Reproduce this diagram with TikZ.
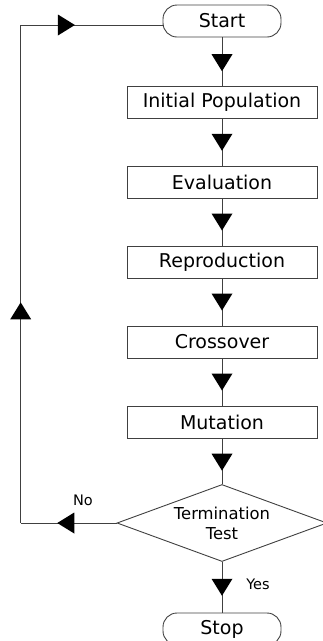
\documentclass[tikz,border=0pt]{standalone}
\usepackage{fontspec}
\setmainfont{DejaVu Sans}
\usetikzlibrary{shapes.geometric,decorations.markings}
\tikzset{
  edgecol/.style={draw=black!75, line width=0.9pt},
  procbox/.style={rectangle, edgecol, minimum width=190pt, minimum height=32pt, inner sep=0pt, font=\fontsize{19}{22}\selectfont},
  termbox/.style={rectangle, rounded corners=14pt, edgecol, minimum width=118pt, minimum height=32pt, inner sep=0pt, font=\fontsize{19}{22}\selectfont},
  decbox/.style={diamond, edgecol, aspect=2.73, minimum width=210pt, minimum height=77pt, inner sep=0pt, align=center, font=\fontsize{16.4}{20}\selectfont},
  lbl/.style={inner sep=0pt, font=\fontsize{14.5}{16}\selectfont},
  conn/.style={edgecol},
  midarrow/.style={postaction={decorate}, decoration={markings, mark=at position #1 with {\fill[black] (8.5pt,0)--(-8.5pt,10.5pt)--(-8.5pt,-10.5pt)--cycle;}}}
}
\begin{document}
\begin{tikzpicture}[x=1pt,y=-1pt]
\useasboundingbox (0,0) rectangle (323,641);
\node[termbox] (start) at (222,21) {Start};
\node[procbox] (ip) at (222,102.5) {Initial Population};
\node[procbox] (eval) at (222,182) {Evaluation};
\node[procbox] (repro) at (222,262) {Reproduction};
\node[procbox] (cross) at (222,342) {Crossover};
\node[procbox] (mut) at (222,422) {Mutation};
\node[decbox] (tt) at (222,523) {Termination\\Test};
\node[termbox] (stop) at (222,629) {Stop};
\node[lbl] (no) at (83,500) {No};
\node[lbl] (yes) at (258,584) {Yes};
\coordinate (c1) at (20.7,523);
\coordinate (c2) at (20.7,25);
\coordinate (sw) at (163.5,25);
\draw[conn, midarrow=0.52] (start) -- (ip);
\draw[conn, midarrow=0.5] (ip) -- (eval);
\draw[conn, midarrow=0.5] (eval) -- (repro);
\draw[conn, midarrow=0.5] (repro) -- (cross);
\draw[conn, midarrow=0.5] (cross) -- (mut);
\draw[conn, midarrow=0.52] (mut) -- (tt);
\draw[conn, midarrow=0.5] (tt) -- (stop);
\draw[conn, midarrow=0.53] (tt.west) -- (c1);
\draw[conn, midarrow=0.426] (c1) -- (c2);
\draw[conn, midarrow=0.32] (c2) -- (sw);
\end{tikzpicture}
\end{document}
